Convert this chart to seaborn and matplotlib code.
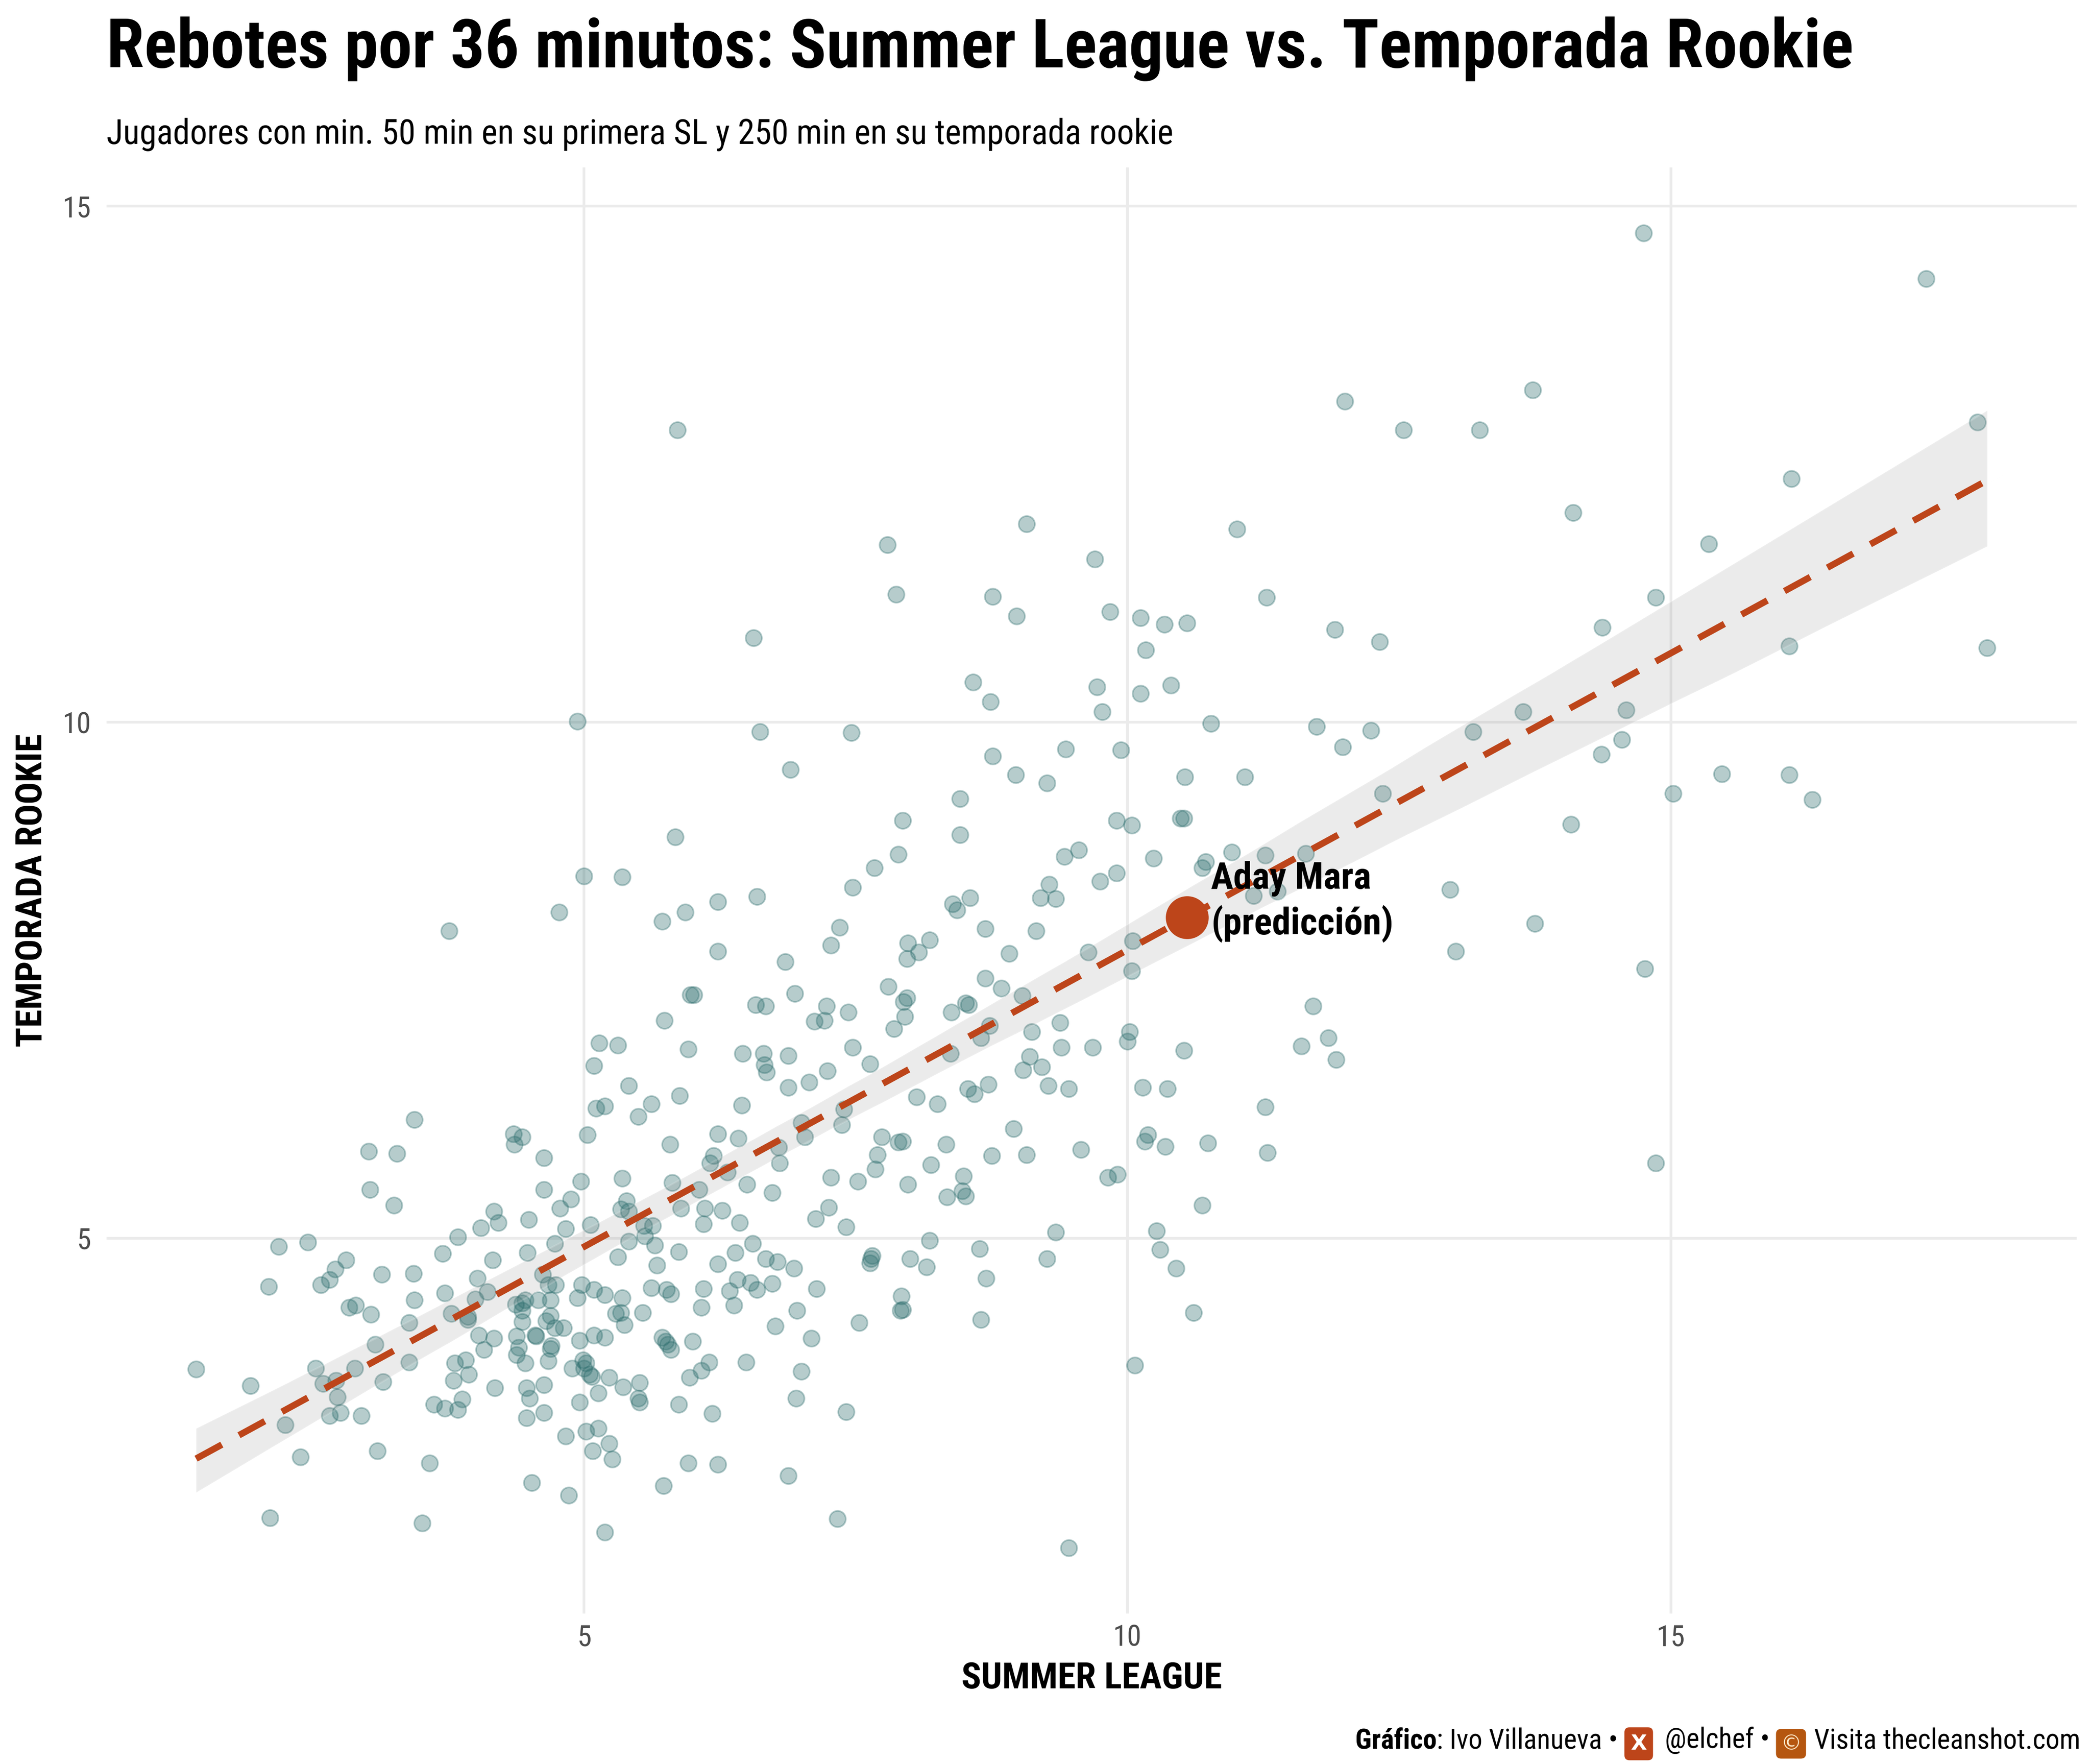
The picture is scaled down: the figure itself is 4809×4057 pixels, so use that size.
import numpy as np
import pandas as pd
import seaborn as sns
import matplotlib.pyplot as plt
from matplotlib import font_manager

# rebotes por 36 minutos: Summer League (x) vs temporada rookie (y)
summer_league = [
    # zona alta
    5.86, 7.79, 7.87, 8.76, 8.98, 6.56, 14.75, 12.00, 12.54, 13.24,
    13.73, 9.07, 9.70, 11.01, 14.10, 16.11, 15.35, 9.84, 10.12, 10.34,
    10.55, 11.28, 11.91, 14.37, 14.86, 17.35, 17.82, 17.91,
    # zona media izquierda
    4.94, 6.62, 5.84, 5.00, 5.35, 4.77, 3.76, 5.72, 5.93, 6.23,
    6.59, 6.23, 5.98, 6.01, 6.58, 6.67, 5.74, 5.14, 5.31, 5.09,
    5.96, 6.46, 6.65, 6.66, 6.68, 5.41, 5.88,
    # zona media centro
    10.17, 8.58, 8.74, 9.72, 10.12, 10.40, 9.77, 10.77, 11.74, 11.98,
    7.46, 6.90, 8.76, 9.43, 9.94, 8.97, 9.26, 10.53, 11.08, 8.46,
    7.93, 8.46, 9.90, 10.04, 10.49, 10.52, 7.89, 7.67, 7.47, 9.42,
    9.55, 10.24, 10.72, 10.69, 10.96, 11.27, 11.64, 11.16, 11.38, 9.75,
    9.90, 9.28, 9.20, 9.34, 8.39, 8.43, 8.55, 7.35, 7.27, 6.85,
    7.98, 8.08, 7.97, 8.18, 8.69, 9.16, 8.91, 9.64, 10.05, 10.04,
    6.94, 7.80, 7.97, 7.94, 7.95, 7.23, 7.43, 7.12, 7.21, 7.85,
    8.69, 8.84, 9.03, 8.38, 8.51, 8.54, 8.73, 8.65, 8.37, 9.12,
    9.38, 10.02, 10.00, 10.52, 11.71, 11.60, 11.85, 11.92, 7.47, 6.88,
    7.63, 7.24, 9.39, 9.68, 9.10, 9.21, 9.04, 6.88, 7.07, 9.27,
    9.46, 10.14, 10.37, 8.53, 8.59, 8.72, 8.06,
    # zona media derecha
    12.32, 16.09, 12.24, 13.64, 13.18, 14.59, 14.55, 14.36, 12.35, 14.08,
    15.02, 15.47, 16.09, 16.30, 12.97, 13.02, 13.75, 14.76,
    # zona baja izquierda
    3.44, 3.02, 3.28, 3.03, 3.25, 4.35, 4.43, 4.36, 4.63, 4.63,
    5.03, 5.11, 5.19, 5.62, 5.50, 5.79, 4.97, 4.88, 4.78, 5.35,
    5.39, 5.34, 5.41, 5.81, 5.89, 4.17, 4.21, 4.05, 3.84, 4.49,
    4.83, 5.06, 4.73, 4.48, 3.70, 4.16, 2.19, 2.46, 2.81, 2.71,
    2.66, 2.58, 2.10, 3.14, 3.43, 4.02, 4.11, 4.00, 3.72, 3.44,
    2.84, 2.90, 3.04, 3.39, 3.78, 3.93, 3.93, 4.62, 4.67, 4.74,
    4.37, 4.43, 4.46, 4.43, 4.43, 4.58, 4.69, 4.69, 4.65, 4.73,
    4.81, 4.55, 4.56, 4.38, 4.40, 4.38, 4.46, 4.67, 4.70, 4.69,
    4.96, 5.09, 5.19, 4.98, 5.09, 5.19, 4.94, 5.35, 5.29, 5.34,
    5.37, 5.54, 5.62, 5.76, 5.80, 5.65, 5.67, 5.87, 5.55, 5.63,
    5.56, 5.41, 5.31, 5.72, 5.75, 5.77, 5.80, 4.89, 4.99, 5.02,
    5.00, 5.07, 5.05, 5.23, 5.36, 5.51, 5.50, 5.51, 5.13, 4.96,
    5.87, 4.63, 4.47, 4.50, 4.47, 4.63, 4.18, 3.81, 3.91, 3.94,
    3.80, 4.03, 4.17, 4.08, 3.88, 3.62, 3.72, 3.84, 3.39, 3.15,
    3.08, 2.89, 2.72, 2.60, 2.73, 2.53, 1.93, 1.43, 2.25, 2.66,
    2.76, 2.95, 2.39, 3.10, 3.58, 4.52, 4.86, 4.83, 5.02, 5.13,
    5.08, 5.23, 5.26, 5.73, 5.19, 3.51, 2.11,
    # zona baja centro y derecha
    6.45, 8.25, 11.27, 11.29, 6.23, 6.42, 6.19, 6.16, 6.32, 6.79,
    6.80, 7.00, 7.03, 7.39, 7.37, 7.74, 7.89, 7.93, 7.70, 7.68,
    8.33, 8.19, 8.95, 8.75, 9.07, 9.57, 9.82, 9.91, 10.19, 10.16,
    10.35, 10.74, 8.49, 8.48, 8.51, 8.34, 7.98, 7.52, 7.27, 6.73,
    6.50, 6.06, 6.11, 6.27, 6.10, 6.43, 7.25, 7.13, 7.41, 10.69,
    9.34, 10.27, 6.23, 6.39, 6.55, 6.67, 6.78, 6.93, 6.41, 6.53,
    6.34, 6.59, 6.73, 6.10, 6.08, 6.38, 7.14, 6.96, 6.76, 7.09,
    7.53, 7.65, 7.63, 7.64, 8.00, 8.18, 8.15, 8.64, 8.70, 9.26,
    7.92, 7.91, 7.93, 8.65, 10.30, 10.45, 10.61, 6.00, 6.15, 6.08,
    5.97, 6.49, 7.00, 6.18, 6.95, 7.41, 5.96, 6.23, 6.88, 7.33,
    9.46, 10.07, 14.86,
]

temporada_rookie = [
    # zona alta
    12.83, 11.72, 11.24, 11.22, 11.03, 10.82, 14.74, 13.11, 12.83, 12.83,
    13.22, 11.92, 11.58, 11.87, 12.03, 12.36, 11.73, 11.07, 11.01, 10.95,
    10.96, 11.21, 10.90, 10.92, 11.21, 14.30, 12.91, 10.72,
    # zona media izquierda
    10.01, 9.91, 8.89, 8.51, 8.50, 8.16, 7.98, 8.07, 8.16, 8.26,
    8.31, 7.78, 7.36, 7.36, 7.26, 7.25, 7.11, 6.89, 6.87, 6.67,
    6.83, 6.79, 6.79, 6.68, 6.61, 6.48, 6.38,
    # zona media centro
    10.70, 10.39, 10.20, 10.34, 10.28, 10.36, 10.10, 9.99, 9.96, 9.76,
    9.90, 9.54, 9.67, 9.74, 9.73, 9.49, 9.41, 9.47, 9.47, 9.26,
    9.05, 8.91, 9.05, 9.00, 9.07, 9.07, 8.72, 8.59, 8.40, 8.70,
    8.76, 8.68, 8.65, 8.59, 8.74, 8.71, 8.73, 8.32, 8.36, 8.46,
    8.54, 8.43, 8.30, 8.29, 8.24, 8.18, 8.30, 8.01, 7.84, 7.68,
    7.86, 7.77, 7.71, 7.89, 8.00, 7.98, 7.76, 7.77, 7.88, 7.59,
    7.37, 7.44, 7.33, 7.29, 7.15, 7.25, 7.19, 7.10, 7.11, 7.03,
    7.52, 7.42, 7.35, 7.19, 7.28, 7.26, 7.06, 6.94, 6.79, 7.00,
    7.09, 7.00, 6.91, 6.82, 7.25, 6.86, 6.94, 6.73, 6.85, 6.77,
    6.69, 6.62, 6.85, 6.85, 6.76, 6.66, 6.63, 6.46, 6.51, 6.48,
    6.45, 6.46, 6.45, 6.45, 6.40, 6.49, 6.37,
    # zona media derecha
    10.78, 10.74, 9.92, 10.10, 9.91, 10.12, 9.83, 9.69, 9.31, 9.01,
    9.31, 9.50, 9.49, 9.25, 8.38, 7.78, 8.05, 7.61,
    # zona baja izquierda
    6.15, 5.84, 5.82, 5.47, 5.32, 6.01, 5.98, 5.91, 5.78, 5.47,
    6.00, 6.26, 6.28, 6.30, 6.18, 5.91, 5.55, 5.38, 5.29, 5.58,
    5.36, 5.28, 5.26, 5.54, 5.29, 5.26, 5.15, 5.10, 5.01, 5.18,
    5.09, 5.13, 4.95, 4.86, 4.85, 4.79, 4.92, 4.96, 4.79, 4.70,
    4.60, 4.55, 4.53, 4.65, 4.66, 4.61, 4.48, 4.41, 4.47, 4.40,
    4.33, 4.35, 4.26, 4.18, 4.27, 4.24, 4.21, 4.65, 4.55, 4.55,
    4.36, 4.37, 4.40, 4.30, 4.19, 4.40, 4.40, 4.25, 4.20, 4.13,
    4.13, 4.06, 4.05, 4.05, 3.94, 3.87, 3.79, 3.81, 3.96, 3.93,
    4.01, 4.06, 4.04, 4.55, 4.50, 4.45, 4.42, 4.42, 4.27, 4.28,
    4.16, 4.28, 4.52, 4.50, 4.46, 4.93, 4.74, 4.87, 5.12, 5.12,
    5.02, 4.97, 4.82, 4.04, 4.00, 3.97, 3.92, 3.74, 3.82, 3.79,
    3.74, 3.66, 3.68, 3.65, 3.56, 3.60, 3.45, 3.41, 3.50, 3.41,
    3.39, 3.58, 3.55, 3.45, 3.26, 3.31, 3.55, 3.79, 3.82, 3.68,
    3.62, 4.06, 4.03, 3.92, 3.44, 3.39, 3.35, 3.34, 3.80, 3.61,
    3.97, 3.74, 3.62, 3.59, 3.46, 3.74, 3.57, 3.73, 3.19, 3.28,
    3.31, 3.28, 2.88, 2.94, 2.82, 2.63, 2.51, 3.08, 3.13, 3.16,
    2.94, 3.01, 2.86, 2.60, 2.15, 2.24, 2.29,
    # zona baja centro y derecha
    6.29, 6.30, 6.27, 5.83, 6.01, 5.97, 5.80, 5.73, 5.64, 5.88,
    5.73, 6.12, 5.98, 6.25, 6.10, 5.98, 5.93, 5.94, 5.81, 5.67,
    5.91, 5.71, 6.06, 5.80, 5.81, 5.86, 5.59, 5.62, 6.00, 5.94,
    5.89, 5.92, 5.60, 5.46, 5.41, 5.40, 5.52, 5.55, 5.59, 5.44,
    5.52, 5.47, 5.29, 5.27, 5.14, 5.15, 5.30, 5.19, 5.11, 5.32,
    5.06, 5.07, 4.75, 4.86, 4.95, 4.80, 4.77, 4.71, 4.60, 4.57,
    4.49, 4.50, 4.56, 4.51, 4.33, 4.35, 4.51, 4.30, 4.15, 4.03,
    4.18, 4.83, 4.76, 4.80, 4.80, 4.98, 4.72, 4.90, 4.61, 4.80,
    4.44, 4.30, 4.31, 4.21, 4.89, 4.71, 4.28, 4.00, 3.80, 3.72,
    3.65, 3.80, 3.71, 3.30, 3.45, 3.32, 2.82, 2.81, 2.70, 2.28,
    2.00, 3.77, 5.73,
]

# Aday Mara: su dato de Summer League, la temporada rookie es la predicción
mara_sl = 10.55

title = "Rebotes por 36 minutos: Summer League vs. Temporada Rookie"
subtitle = "Jugadores con min. 50 min en su primera SL y 250 min en su temporada rookie"

teal = "#2f6f6f"
orange = "#bd451a"

# buscar una fuente estrecha instalada
fm = font_manager.fontManager
names = {f.name for f in fm.ttflist}
narrow = ("ultra-condensed", "extra-condensed", "condensed", "semi-condensed")
cond, stretch = "DejaVu Sans", "normal"
for cand in ["Liberation Sans Narrow", "Roboto Condensed", "Open Sans Condensed",
             "Noto Sans Condensed", "DejaVu Sans Condensed"]:
    if cand in names:
        cond = cand
        break
else:
    for fam in ["Roboto", "Noto Sans", "Open Sans", "DejaVu Sans"]:
        if any(f.name == fam and f.stretch in narrow for f in fm.ttflist):
            cond, stretch = fam, "condensed"
            break

sns.set_theme(style="whitegrid", rc={
    "grid.color": "#ebebeb", "grid.linewidth": 1.5,
    "axes.linewidth": 0, "axes.edgecolor": "white",
    "xtick.color": "#4d4d4d", "ytick.color": "#4d4d4d",
    "text.color": "black", "axes.labelcolor": "black",
})
plt.rcParams["font.family"] = [cond, "DejaVu Sans"]
plt.rcParams["font.stretch"] = stretch

W, H = 4809, 4057
fig = plt.figure(figsize=(W / 300, H / 300), dpi=300)
ax = fig.add_axes([245 / W, 1 - 3711 / H, (4776 - 245) / W, (3711 - 385) / H])

df = pd.DataFrame({"sl": summer_league, "rookie": temporada_rookie})

# puntos
sns.regplot(data=df, x="sl", y="rookie", ax=ax, fit_reg=False, color=teal,
            scatter_kws=dict(s=80, alpha=0.35, linewidths=0.9))
# banda de confianza gris
sns.regplot(data=df, x="sl", y="rookie", ax=ax, scatter=False, color="#7f7f7f",
            ci=95, seed=3, line_kws=dict(alpha=0))
# recta de regresión
sns.regplot(data=df, x="sl", y="rookie", ax=ax, scatter=False, ci=None, color=orange,
            line_kws=dict(lw=3.6, ls=(0, (4.5, 3)), solid_capstyle="butt"))

slope, intercept = np.polyfit(df["sl"], df["rookie"], 1)
mara_pred = intercept + slope * mara_sl
ax.scatter([mara_sl], [mara_pred], s=560, color=orange, zorder=5, linewidths=0)
mara_txt = ax.text(mara_sl + 0.22, mara_pred + 0.15, "Aday Mara\n(predicción)", fontsize=20,
                   fontweight="bold", ha="left", va="center", linespacing=1.3, zorder=6)

xr = df["sl"].max() - df["sl"].min()
yr = df["rookie"].max() - df["rookie"].min()
ax.set_xlim(df["sl"].min() - 0.05 * xr, df["sl"].max() + 0.05 * xr)
ax.set_ylim(df["rookie"].min() - 0.05 * yr, df["rookie"].max() + 0.05 * yr)
ax.set_xticks([5, 10, 15])
ax.set_yticks([5, 10, 15])
ax.tick_params(axis="x", length=0, pad=6, labelsize=16)
ax.tick_params(axis="y", length=0, pad=8.5, labelsize=16)
for s in ax.spines.values():
    s.set_visible(False)

ax.set_xlabel("SUMMER LEAGUE", fontsize=19, fontweight="bold")
ax.xaxis.set_label_coords(0.5, (3711 - 3861) / (3711 - 385))
ax.xaxis.label.set_va("center")
ax.set_ylabel("TEMPORADA ROOKIE", fontsize=19, fontweight="bold")
ax.yaxis.set_label_coords((74 - 245) / (4776 - 245), 0.5)
ax.yaxis.label.set_va("center")

t_title = fig.text(245 / W, 1 - 155 / H, title, fontsize=38, fontweight="bold",
                   ha="left", va="baseline")
t_sub = fig.text(245 / W, 1 - 331 / H, subtitle, fontsize=20.5, ha="left", va="baseline")

# pie de gráfico, de derecha a izquierda
cap = dict(fontsize=16, color="black")
pieces = [fig.text(4785 / W, 1 - 4021 / H, "Visita thecleanshot.com",
                   ha="right", va="baseline", **cap)]


def left_of(prev, s, gap=5, **kw):
    opts = dict(cap)
    opts.update(kw)
    return ax.annotate(s, xy=(0, 0), xycoords=prev, xytext=(-gap, 0),
                       textcoords="offset points", ha="right", va="bottom",
                       annotation_clip=False, **opts)


pieces.append(left_of(pieces[-1], "©", gap=7, fontsize=12, color="#fde9c9",
                      family=["DejaVu Sans"],
                      bbox=dict(boxstyle="round,pad=0.22,rounding_size=0.25",
                                fc="#b5560f", ec="none")))
pieces.append(left_of(pieces[-1], "@elchef •", gap=6))
pieces.append(left_of(pieces[-1], "X", gap=10, fontsize=12, color="white",
                      fontweight="bold", family=["DejaVu Sans"],
                      bbox=dict(boxstyle="round,pad=0.3,rounding_size=0.25",
                                fc=orange, ec="none")))
pieces.append(left_of(pieces[-1], ": Ivo Villanueva •", gap=7))
pieces.append(left_of(pieces[-1], "Gráfico", gap=0, fontweight="bold"))


# ajustar tamaños de letra a los anchos de la referencia (px)
def fit(t, target, vertical=False):
    fig.canvas.draw()
    bb = t.get_window_extent()
    cur = bb.height if vertical else bb.width
    t.set_fontsize(t.get_fontsize() * target / cur)


fit(t_title, 4018)
fit(t_sub, 2454)
fit(ax.xaxis.label, 600)
fit(ax.yaxis.label, 720, vertical=True)
fit(mara_txt, 420)

fig.canvas.draw()
left = min(p.get_window_extent().x0 for p in pieces)
right = max(p.get_window_extent().x1 for p in pieces)
k = 1662 / (right - left)
for p in pieces:
    p.set_fontsize(p.get_fontsize() * k)

fig.savefig("out.png", dpi=300, facecolor="white")
